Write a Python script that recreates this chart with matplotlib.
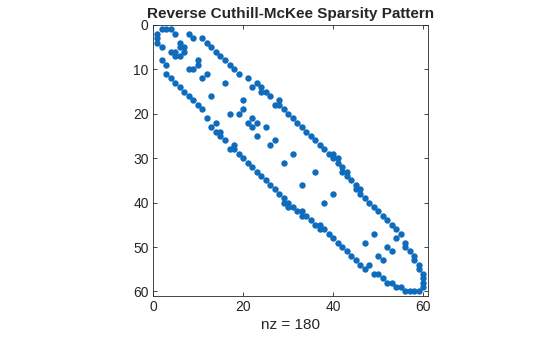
"""Spy plot of a symmetric sparse matrix after Reverse Cuthill-McKee reordering."""

import matplotlib

matplotlib.use("Agg")
import matplotlib.pyplot as plt

plt.rcParams["font.family"] = ["Liberation Sans", "DejaVu Sans"]

# nonzeros below the diagonal, (column, row); the matrix is symmetric
corner_cols = [1, 1, 1, 2, 4, 5, 5, 6, 8, 9, 11]
corner_rows = [2, 3, 4, 5, 6, 6, 7, 7, 10, 10, 12]

band_cols = [2, 3, 3, 4, 5, 6, 7, 8, 9, 10, 11, 12, 13, 14, 14, 15, 15, 16,
             17, 18, 18, 19, 20, 21, 22, 23, 24, 25, 26, 27, 28, 29, 29, 30,
             30, 31, 32, 33, 33, 34, 35, 36, 37, 37, 38, 39, 40, 41, 42, 43,
             44, 45, 46, 47, 48, 49, 50, 51, 52, 53, 54, 55, 56, 57, 58, 59]
band_rows = [8, 9, 11, 12, 13, 14, 15, 16, 17, 18, 19, 21, 23, 22, 24, 24, 25,
             26, 28, 28, 27, 29, 30, 31, 32, 33, 34, 35, 36, 37, 38, 39, 40,
             40, 41, 41, 42, 42, 43, 43, 44, 45, 45, 46, 46, 47, 48, 49, 50,
             51, 52, 53, 54, 55, 54, 56, 56, 57, 58, 58, 59, 59, 60, 60, 60, 60]

inner_cols = [13, 17, 19, 21, 23, 26, 29, 33, 38, 47, 50, 51, 22]
inner_rows = [16, 20, 20, 22, 25, 27, 31, 36, 40, 49, 52, 53, 23]

lower_cols = corner_cols + band_cols + inner_cols
lower_rows = corner_rows + band_rows + inner_rows
cols = lower_cols + lower_rows
rows = lower_rows + lower_cols

fig = plt.figure(figsize=(5.6, 3.37), dpi=100)
ax = fig.add_axes([0.273, 0.122, 0.491, 0.804])
ax.plot(cols, rows, linestyle="none", marker="o", markersize=4.6,
        markeredgewidth=0, color="#0F6CBD")

ax.set_xlim(0, 61)
ax.set_ylim(61, 0)
ax.set_xticks([0, 20, 40, 60])
ax.set_yticks(range(0, 61, 10))
ax.tick_params(direction="in", length=3, width=0.6, top=True, right=True,
               labelsize=10, colors="#262626", pad=3)
for side in ax.spines.values():
    side.set_color("#262626")
    side.set_linewidth(0.6)

ax.set_title("Reverse Cuthill-McKee Sparsity Pattern", fontsize=11,
             fontweight="bold", color="#262626", pad=5)
ax.set_xlabel(f"nz = {len(cols)}", fontsize=11, color="#262626", labelpad=3)

fig.savefig("out.png", dpi=100)
